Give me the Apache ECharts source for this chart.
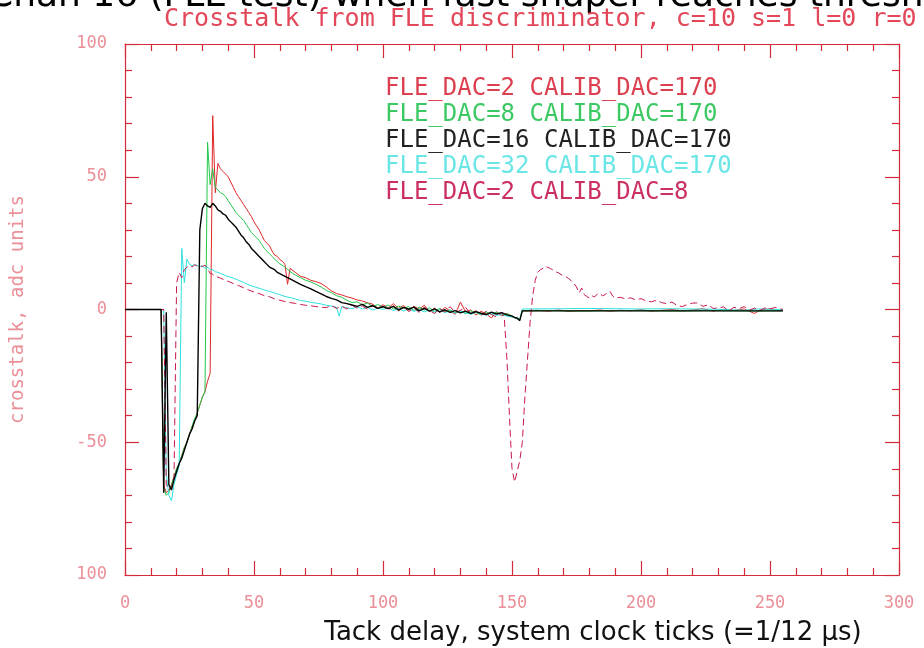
<!DOCTYPE html>
<html>
<head>
<meta charset="utf-8">
<script src="https://cdn.jsdelivr.net/npm/echarts@6/dist/echarts.min.js"></script>
<style>
  html, body { margin: 0; padding: 0; background: #fff; }
  #chart { width: 924px; height: 648px; }
</style>
</head>
<body>
<div id="chart"></div>
<script>
// Track-delay scan: crosstalk response (adc units) vs delay in system clock ticks.
const seriesNames = [
  'FLE_DAC=2 CALIB_DAC=170',
  'FLE_DAC=8 CALIB_DAC=170',
  'FLE_DAC=16 CALIB_DAC=170',
  'FLE_DAC=32 CALIB_DAC=170',
  'FLE_DAC=2 CALIB_DAC=8'
];

const xTickValues = [0, 50, 100, 150, 200, 250, 300];
const yTickLabels = { '100': '100', '50': '50', '0': '0', '-50': '-50', '-100': '100' };

// [delay, crosstalk] pairs for each setting
const fle2Calib170 = [
  [0,0],[14,0],[15,-66],[16,-69],[17,-68],[18,-66],[19,-63],[20,-60],[21,-58],[22,-55],[23,-52],[24,-50],
  [25,-47],[26,-44],[27,-42],[28,-39],[29,-36],[30,-33],[31,-31],[32,-27],[33,-24],[34,73],[35,44],[36,55],
  [37,53],[38,52],[39,51],[40,50],[41,48],[42,46],[43,44],[44,42.5],[45,41],[46,39.5],[47,38],[48,36.5],
  [49,35],[50,33],[51,31.5],[52,30],[53,28],[54,26],[55,25],[56,24],[57,22],[58,20.5],[59,20],[60,18.8],
  [61,18.2],[62,17],[63,9.5],[64,15.5],[66,14],[68,12.5],[70,12],[72,11],[74,10.5],[76,9.8],[78,8.5],
  [80,7],[82,6],[84,5.5],[86,4.8],[88,4.3],[90,3.6],[92,3.2],[94,2.5],[96,2],[98,0.5],[100,1.8],
  [102,0.6],[104,2.2],[106,0.4],[108,1.5],[110,-0.3],[112,1.2],[114,0.1],[116,1.6],[118,-0.8],[120,0.5],
  [122,-1.2],[124,0.8],[126,-0.6],[128,-1.8],[130,2.8],[132,-0.9],[134,-0.2],[136,-2.1],[138,-0.7],
  [140,-1.6],[142,-3.2],[144,-0.8],[146,-2.4],[148,-1.5],[150,-2.6],[152,-3.5],[153,-3.8],[154,-0.5],
  [156,-0.5],[160,-0.3],[164,-0.6],[168,-0.2],[172,-0.7],[176,-0.4],[180,-0.5],[184,-0.2],[188,-0.6],
  [192,-0.3],[196,-0.5],[200,-0.1],[204,-0.6],[208,-0.3],[212,0],[216,-0.5],[220,-0.2],[224,0.3],
  [228,-0.6],[232,0.1],[236,-0.4],[240,0.2],[244,-1.5],[246,-0.3],[250,0.3],[253,-0.5],[255,-0.3]
];

const fle8Calib170 = [
  [0,0],[14,0],[15,-67],[16,-70],[17,-69],[18,-66],[19,-63],[20,-60],[21,-58],[22,-55],[23,-52],[24,-50],
  [25,-47],[26,-44],[27,-41],[28,-39],[29,-36],[30,-33],[31,-31],[32,63],[33,47],[34,53],[35,46],[36,45],
  [37,44],[38,43.5],[39,42.5],[40,41],[41,39.5],[42,38],[43,36.5],[44,35.5],[45,34.5],[46,33.5],[47,32],
  [48,30.5],[49,29],[50,28],[51,27],[52,26],[53,24.5],[54,23],[55,22],[56,21],[57,20],[58,19],[59,18],
  [60,17.2],[62,16],[64,14.3],[66,13],[68,12],[70,11],[72,10.4],[74,9.5],[76,8.5],[78,7.2],[80,6.3],
  [82,5.2],[84,4.6],[86,3.5],[88,2.6],[90,2.9],[92,1.8],[94,2.4],[96,1.1],[98,1.9],[100,0.8],
  [102,1.7],[104,0.2],[106,1.3],[108,0.5],[110,1.1],[112,-0.4],[114,0.9],[116,-0.2],[118,0.6],[120,-0.7],
  [122,0.4],[124,-1.0],[126,-0.1],[128,-1.3],[130,-0.4],[132,-1.6],[134,-0.5],[136,-1.2],[138,-2.0],
  [140,-0.9],[142,-1.8],[144,-1.1],[146,-2.2],[148,-1.6],[150,-2.4],[152,-3.6],[153,-3.9],[154,-0.5],
  [156,-0.5],[165,-0.4],[175,-0.6],[185,-0.5],[195,-0.4],[205,-0.5],[215,-0.6],[225,-0.4],[235,-0.5],
  [245,-0.6],[255,-0.5]
];

const fle16Calib170 = [
  [0,0],[14,0],[15,-69],[16,-1],[17,-66],[18,-68],[19,-64],[20,-61],[21,-58],[22,-56],[23,-53],[24,-50],
  [25,-47],[26,-45],[27,-42],[28,-40],[29,30],[30,38],[31,40],[32,39],[33,38.5],[34,40],[35,39],[36,37.5],
  [37,37],[38,36],[39,35.5],[40,34],[41,33],[42,32],[43,31],[44,29.5],[45,28],[46,27],[47,25.5],[48,24.5],
  [49,23],[50,22],[51,21],[52,20],[53,19],[54,18],[55,17],[56,16],[57,15.5],[58,15],[59,14],[60,13.5],
  [62,12.5],[64,11.5],[66,10.5],[68,9.5],[70,8.6],[72,7.8],[74,6.8],[76,5.9],[78,4.9],[80,4.2],[82,3.6],
  [84,2.6],[86,2.2],[88,1.7],[90,1.2],[92,1.9],[94,0.8],[96,1.5],[98,0.4],[100,1.1],
  [102,0.3],[104,1.2],[106,-0.2],[108,0.8],[110,0.1],[112,0.9],[114,-0.5],[116,0.4],[118,-0.6],[120,0.2],
  [122,-0.9],[124,-0.1],[126,-1.1],[128,-0.4],[130,-1.3],[132,-0.6],[134,-1.5],[136,-0.8],[138,-1.4],
  [140,-1.9],[142,-1.0],[144,-1.7],[146,-1.2],[148,-2.0],[150,-2.5],[151,-3.0],[152,-3.2],[153,-4.2],
  [154,-0.5],[255,-0.5]
];

const fle32Calib170 = [
  [0,0],[15,0],[16,-62],[17,-70],[18,-72],[19,-66],[20,-62],[21,-59],[22,23],[23,10],[24,19],[25,17],
  [26,16.5],[27,17],[28,16.5],[29,16],[30,16.5],[31,15.5],[32,16],[33,15],[34,15],[35,14.2],[36,14],
  [37,13.6],[38,13.2],[39,12.8],[40,12.4],[42,11.8],[44,11],[46,10.2],[48,9.2],[50,8.6],[52,8],[54,7.4],
  [56,6.8],[58,6.2],[60,5.6],[62,4.9],[64,4.5],[66,4],[68,3.4],[70,3.1],[72,2.7],[74,2.4],[76,2.1],
  [78,1.6],[80,1.3],[82,0.8],[83,-2.5],[84,1.1],[86,0.6],[88,0.3],[90,1],[92,0.2],[94,0.8],[96,-0.2],
  [98,0.5],[100,0.1],[102,0.6],[104,-0.4],[106,0.5],[108,-0.6],[110,0.3],[112,-0.7],[114,0.1],[116,-0.9],
  [118,-0.2],[120,-1.0],[122,0],[124,-1.2],[126,-0.5],[128,-1.4],[130,-0.7],[132,-1.2],[134,-1.8],
  [136,-1.0],[138,-1.6],[140,-2.1],[142,-1.4],[144,-2.2],[146,-1.8],[148,-2.5],[150,-2.8],[152,-3.4],
  [153,-3.6],[154,0.2],[170,0.3],[180,0.4],[190,0.3],[200,0.2],[210,0.3],[220,0.2],[230,0.1],
  [240,-0.3],[245,0.2],[255,0]
];

const fle2Calib8 = [
  [0,0],[15,0],[16,-66],[17,-68],[18,-67],[19,-63],[20,10],[21,14],[22,12],[23,15],[24,16],[25,16.5],
  [26,16],[27,16.8],[28,16.4],[29,16.6],[30,16.2],[31,16.7],[32,15.4],[33,13.6],[34,13.2],[35,12.5],
  [36,12.2],[37,11.8],[38,11.4],[39,10.9],[40,10.6],[42,9.8],[44,9],[46,8.2],[48,7.3],[50,6.6],[52,6],
  [54,5.2],[56,4.8],[58,4],[60,3.5],[62,3],[64,2.6],[66,2.3],[68,1.9],[70,1.6],[72,1.4],[74,1.1],
  [76,0.9],[78,0.7],[80,1.5],[82,0.4],[84,1.2],[86,0.2],[88,1.6],[90,0.5],[92,1.3],[94,0.1],[96,1.4],
  [98,0.3],[100,1.2],[102,-0.3],[104,1.4],[106,-0.5],[108,1.0],[110,-0.8],[112,0.6],[114,-1.1],[116,0.9],
  [118,-0.4],[120,-1.5],[122,0.3],[124,-0.9],[126,1.1],[128,-1.2],[130,-0.3],[132,0.8],[134,-1.7],
  [136,-0.4],[138,-2.3],[140,-0.6],[142,-1.9],[144,-2.8],[146,-1.2],[147,-3],[148,-18],[149,-40],
  [150,-60],[151,-65],[152,-61],[153,-57],[154,-50],[155,-33],[156,-19],[157,-5],[158,5],[159,11],
  [160,14],[161,15],[162,15.5],[163,16.2],[164,15.8],[165,15.4],[166,14.8],[167,14.2],[168,13.8],
  [169,13.2],[170,12.7],[171,12.3],[172,11.6],[173,10.8],[174,9.8],[175,8.5],[176,6.2],[177,8.1],
  [178,5.6],[179,4.9],[180,4.3],[181,5.2],[182,4.7],[183,5.8],[184,6.1],[185,5.2],[186,5.5],[187,6.6],
  [188,6.8],[189,5.1],[190,4.3],[192,4.6],[194,4.0],[196,4.4],[198,3.6],[200,4.1],[202,3.2],[204,2.9],
  [206,3.5],[208,2.6],[210,2.2],[212,2.8],[214,1.5],[216,1.1],[218,1.9],[220,2.4],[222,2.5],[224,1.2],
  [226,1.8],[228,0.4],[230,0.6],[232,1.0],[234,-0.5],[236,0.8],[238,0.3],[240,1.1],[242,-0.2],[244,0.5],
  [246,-0.4],[248,0.6],[250,0.2],[252,0.8],[254,0.3],[255,0]
];

const lineColors   = ['#e02828', '#22c84a', '#000000', '#30e0e0', '#c8184c'];
const legendColors = ['#dc4050', '#3cc862', '#222222', '#6ae6e6', '#cc3060'];

const axisRed = '#d42a3c';
const labelPink = '#eb8f98';
const font = 'DejaVu Sans';
const monoFont = 'DejaVu Sans Mono';

const chart = echarts.init(document.getElementById('chart'), null, { renderer: 'canvas' });

function lineSeries(name, data, color, extra) {
  return Object.assign({
    name: name,
    type: 'line',
    data: data,
    showSymbol: false,
    symbol: 'none',
    xAxisIndex: 0,
    yAxisIndex: 0,
    lineStyle: { color: color, width: 1 },
    itemStyle: { color: color },
    emphasis: { disabled: true },
    animation: false
  }, extra || {});
}

const tickCommon = {
  axisLine: { show: true, onZero: false, lineStyle: { color: axisRed, width: 1.2 } },
  axisTick: { show: true, inside: true, length: 14, lineStyle: { color: axisRed, width: 1.2 } },
  minorTick: { show: true, splitNumber: 5, length: 7, lineStyle: { color: axisRed, width: 1.2 } },
  splitLine: { show: false },
  minorSplitLine: { show: false }
};

const option = {
  animation: false,
  backgroundColor: '#ffffff',
  title: [
    {
      text: 'Chan 16 (FLE test) when fast shaper reaches threshold',
      left: -12, top: -21, padding: 0,
      textStyle: { fontFamily: font, fontSize: 36, fontWeight: 'normal', color: '#000' }
    },
    {
      text: 'Crosstalk from FLE discriminator, c=10 s=1 l=0 r=0',
      left: 164, top: 7, padding: 0,
      textStyle: { fontFamily: monoFont, fontSize: 25, fontWeight: 'normal', color: '#e2475a' }
    }
  ],
  legend: {
    orient: 'vertical',
    left: 375, top: 72,
    icon: 'none',
    itemWidth: 0, itemHeight: 20, itemGap: 2,
    selectedMode: false,
    textStyle: { fontFamily: monoFont, fontSize: 24, lineHeight: 20 },
    data: seriesNames.map((n, i) => ({ name: n, textStyle: { color: legendColors[i] } }))
  },
  grid: { left: 125, right: 25, top: 44, bottom: 73, containLabel: false, outerBoundsMode: 'none' },
  xAxis: [
    Object.assign({
      type: 'value', position: 'bottom', min: 0, max: 300, interval: 50,
      name: 'Tack delay, system clock ticks (=1/12 \u00b5s)',
      nameLocation: 'middle', nameGap: 45,
      nameTextStyle: { fontFamily: font, fontSize: 26, color: '#111', padding: [0, 0, 0, 162] },
      axisLabel: {
        show: true, margin: 20, fontFamily: monoFont, fontSize: 17, color: labelPink,
        formatter: v => (xTickValues.indexOf(v) >= 0 ? String(v) : '')
      }
    }, tickCommon),
    Object.assign({
      type: 'value', position: 'top', min: 0, max: 300, interval: 50,
      axisLabel: { show: false }
    }, tickCommon)
  ],
  yAxis: [
    Object.assign({
      type: 'value', position: 'left', min: -100, max: 100, interval: 50,
      name: 'crosstalk, adc units',
      nameLocation: 'middle', nameGap: 97,
      nameTextStyle: { fontFamily: monoFont, fontSize: 19, color: labelPink },
      axisLabel: {
        show: true, margin: 18, fontFamily: monoFont, fontSize: 17, color: labelPink,
        formatter: v => yTickLabels[String(v)] || ''
      }
    }, tickCommon),
    Object.assign({
      type: 'value', position: 'right', min: -100, max: 100, interval: 50,
      axisLabel: { show: false }
    }, tickCommon)
  ],
  series: [
    lineSeries(seriesNames[0], fle2Calib170, lineColors[0]),
    lineSeries(seriesNames[1], fle8Calib170, lineColors[1]),
    lineSeries(seriesNames[3], fle32Calib170, lineColors[3]),
    lineSeries(seriesNames[4], fle2Calib8, lineColors[4], {
      lineStyle: { color: lineColors[4], width: 1, type: [7, 4] }
    }),
    lineSeries(seriesNames[2], fle16Calib170, lineColors[2], {
      lineStyle: { color: lineColors[2], width: 1.4 }
    })
  ]
};

chart.setOption(option);
</script>
</body>
</html>
